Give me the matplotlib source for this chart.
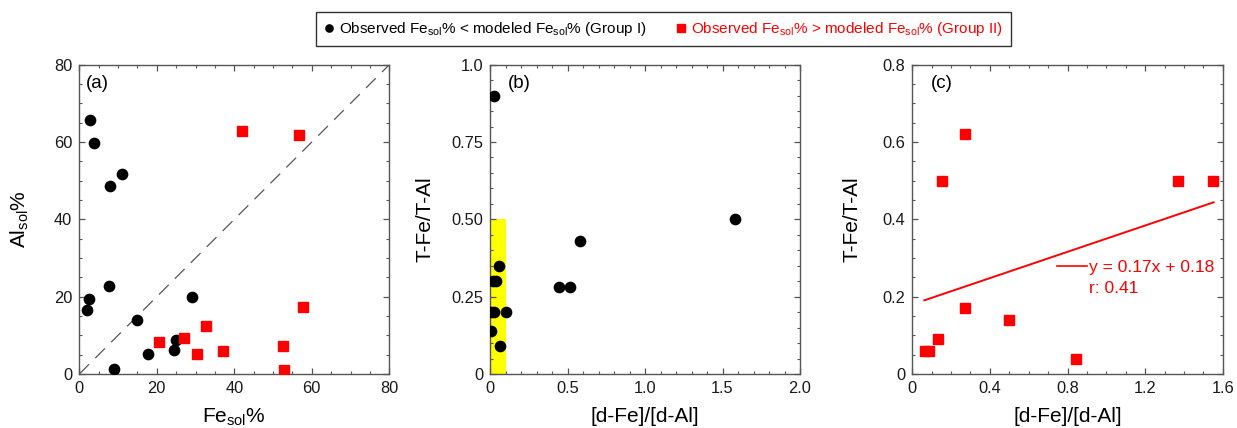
import numpy as np
import matplotlib
matplotlib.use("Agg")
import matplotlib.pyplot as plt
from matplotlib.lines import Line2D
from matplotlib.ticker import MultipleLocator

plt.rcParams["font.family"] = ["Liberation Sans", "DejaVu Sans"]
plt.rcParams["mathtext.fontset"] = "custom"
plt.rcParams["mathtext.rm"] = "Liberation Sans"
plt.rcParams["mathtext.it"] = "Liberation Sans"
plt.rcParams["mathtext.bf"] = "Liberation Sans"

# ---------------- data ----------------
# (a) soluble Fe % vs soluble Al %
a_g1_fe = [2.75, 3.8, 10.9, 7.8, 7.7, 2.4, 1.9, 14.8, 29.2, 24.9, 24.4, 17.8, 8.9]
a_g1_al = [65.7, 59.8, 51.7, 48.6, 22.8, 19.5, 16.6, 13.9, 19.9, 8.8, 6.1, 5.1, 1.2]
a_g2_fe = [41.9, 56.8, 57.6, 32.8, 26.9, 20.6, 30.5, 37.2, 52.6, 52.7]
a_g2_al = [62.9, 61.9, 17.3, 12.4, 9.4, 8.4, 5.3, 5.9, 7.2, 1.0]
one_to_one = [0, 80]
a_ticks = [0, 20, 40, 60, 80]
a_labels = ["0", "20", "40", "60", "80"]

# (b) Group I ratios
b_ratio_d = [0.024, 1.583, 0.578, 0.445, 0.516, 0.058, 0.017, 0.037,
             0.004, 0.026, 0.10, 0.006, 0.067]
b_ratio_t = [0.90, 0.50, 0.43, 0.28, 0.28, 0.35, 0.30, 0.30,
             0.20, 0.20, 0.20, 0.14, 0.09]
band_width = 0.1
band_height = 0.5
b_xticks = [0, 0.5, 1.0, 1.5, 2.0]
b_xlabels = ["0", "0.5", "1.0", "1.5", "2.0"]
b_yticks = [0, 0.25, 0.5, 0.75, 1.0]
b_ylabels = ["0", "0.25", "0.50", "0.75", "1.0"]

# (c) Group II ratios
c_ratio_d = [0.065, 0.085, 0.131, 0.151, 0.273, 0.273, 0.498, 0.844, 1.37, 1.55]
c_ratio_t = [0.06, 0.06, 0.09, 0.50, 0.62, 0.17, 0.14, 0.04, 0.50, 0.50]
fit_slope = 0.17
fit_intercept = 0.18
fit_r = 0.41
c_xticks = [0, 0.4, 0.8, 1.2, 1.6]
c_xlabels = ["0", "0.4", "0.8", "1.2", "1.6"]
c_yticks = [0, 0.2, 0.4, 0.6, 0.8]
c_ylabels = ["0", "0.2", "0.4", "0.6", "0.8"]

RED = "#ff0000"
SPINE = "#555555"

fig = plt.figure(figsize=(12.37, 4.28), dpi=100)
W, H = 1237.0, 428.0


def make_axes(left_px, right_px):
    top_px, bottom_px = 64.7, 374.0
    return fig.add_axes([left_px / W, 1 - bottom_px / H,
                         (right_px - left_px) / W, (bottom_px - top_px) / H])


def style(ax):
    for s in ax.spines.values():
        s.set_color(SPINE)
        s.set_linewidth(1.0)
    ax.tick_params(which="both", direction="in", top=True, right=True,
                   colors=SPINE, labelcolor="#1a1a1a", labelsize=11.8)
    ax.tick_params(which="major", length=4.5, width=0.9, pad=5)
    ax.tick_params(which="minor", length=2.5, width=0.8)


ax_a = make_axes(79.3, 389.3)
ax_b = make_axes(490.0, 800.0)
ax_c = make_axes(912.3, 1222.7)

XLAB_Y = -0.107

# ---------------- (a) ----------------
ax_a.plot(one_to_one, one_to_one, color="#555555", lw=0.9,
          dashes=(11, 7), dash_capstyle="butt", zorder=1)
ax_a.plot(a_g1_fe, a_g1_al, "o", ms=7.4, color="black", mec="black", zorder=3)
ax_a.plot(a_g2_fe, a_g2_al, "s", ms=6.8, color=RED, mec=RED, zorder=3)
ax_a.set_xlim(0, 80)
ax_a.set_ylim(0, 80)
ax_a.set_xticks(a_ticks, a_labels)
ax_a.set_yticks(a_ticks, a_labels)
ax_a.xaxis.set_minor_locator(MultipleLocator(5))
ax_a.yaxis.set_minor_locator(MultipleLocator(5))
style(ax_a)
ax_a.set_xlabel(r"Fe$_{\mathrm{sol}}$%", fontsize=15)
ax_a.set_ylabel(r"Al$_{\mathrm{sol}}$%", fontsize=15)
ax_a.xaxis.set_label_coords(0.5, XLAB_Y)
ax_a.yaxis.set_label_coords(-0.155, 0.5)
ax_a.text(0.022, 0.968, "(a)", transform=ax_a.transAxes, ha="left", va="top",
          fontsize=13.5)

# ---------------- (b) ----------------
ax_b.bar([0], [band_height], width=band_width, align="edge",
         color="#ffff00", edgecolor="none", zorder=1)
ax_b.plot(b_ratio_d, b_ratio_t, "o", ms=7.4, color="black", mec="black", zorder=3)
ax_b.set_xlim(0, 2.0)
ax_b.set_ylim(0, 1.0)
ax_b.set_xticks(b_xticks, b_xlabels)
ax_b.set_yticks(b_yticks, b_ylabels)
ax_b.xaxis.set_minor_locator(MultipleLocator(0.1))
ax_b.yaxis.set_minor_locator(MultipleLocator(0.05))
style(ax_b)
ax_b.set_xlabel("[d-Fe]/[d-Al]", fontsize=15)
ax_b.set_ylabel("T-Fe/T-Al", fontsize=15)
ax_b.xaxis.set_label_coords(0.5, XLAB_Y)
ax_b.yaxis.set_label_coords(-0.18, 0.5)
ax_b.text(0.057, 0.968, "(b)", transform=ax_b.transAxes, ha="left", va="top",
          fontsize=13.5)

# ---------------- (c) ----------------
fit_x = np.array([min(c_ratio_d) - 0.003, max(c_ratio_d) + 0.003])
fit_y = fit_slope * fit_x + fit_intercept
ax_c.plot(c_ratio_d, c_ratio_t, "s", ms=6.8, color=RED, mec=RED, zorder=3)
ax_c.plot(fit_x, fit_y, "-", color=RED, lw=1.4, zorder=2)
ax_c.set_xlim(0, 1.6)
ax_c.set_ylim(0, 0.8)
ax_c.set_xticks(c_xticks, c_xlabels)
ax_c.set_yticks(c_yticks, c_ylabels)
ax_c.xaxis.set_minor_locator(MultipleLocator(0.1))
ax_c.yaxis.set_minor_locator(MultipleLocator(0.05))
style(ax_c)
ax_c.set_xlabel("[d-Fe]/[d-Al]", fontsize=15)
ax_c.set_ylabel("T-Fe/T-Al", fontsize=15)
ax_c.xaxis.set_label_coords(0.5, XLAB_Y)
ax_c.yaxis.set_label_coords(-0.165, 0.5)
ax_c.text(0.061, 0.968, "(c)", transform=ax_c.transAxes, ha="left", va="top",
          fontsize=13.5)

# fit-line key and equation
ax_c.plot([0.467, 0.563], [0.350, 0.350], color=RED, lw=1.2,
          transform=ax_c.transAxes, clip_on=False)
ax_c.text(0.570, 0.345, f"y = {fit_slope:.2f}x + {fit_intercept:.2f}",
          transform=ax_c.transAxes, ha="left", va="center", color=RED,
          fontsize=12.5)
ax_c.text(0.570, 0.278, f"r: {fit_r:.2f}", transform=ax_c.transAxes,
          ha="left", va="center", color=RED, fontsize=12.5)

# ---------------- shared legend ----------------
handles = [
    Line2D([], [], ls="none", marker="o", ms=5.2, color="black"),
    Line2D([], [], ls="none", marker="s", ms=6.0, color=RED),
]
labels = [
    r"Observed Fe$_{\mathrm{sol}}$% < modeled Fe$_{\mathrm{sol}}$% (Group I)",
    r"Observed Fe$_{\mathrm{sol}}$% > modeled Fe$_{\mathrm{sol}}$% (Group II)",
]
leg = fig.legend(handles, labels, loc="upper center", ncol=2,
                 bbox_to_anchor=(663.5 / W, 1 - 11.5 / H),
                 fontsize=11, frameon=True, fancybox=False,
                 edgecolor="black", handlelength=0.6, handletextpad=0.35,
                 columnspacing=1.9, borderpad=0.55, borderaxespad=0,
                 labelcolor=["black", RED])
leg.get_frame().set_linewidth(1.0)

fig.savefig("out.png", dpi=100)
